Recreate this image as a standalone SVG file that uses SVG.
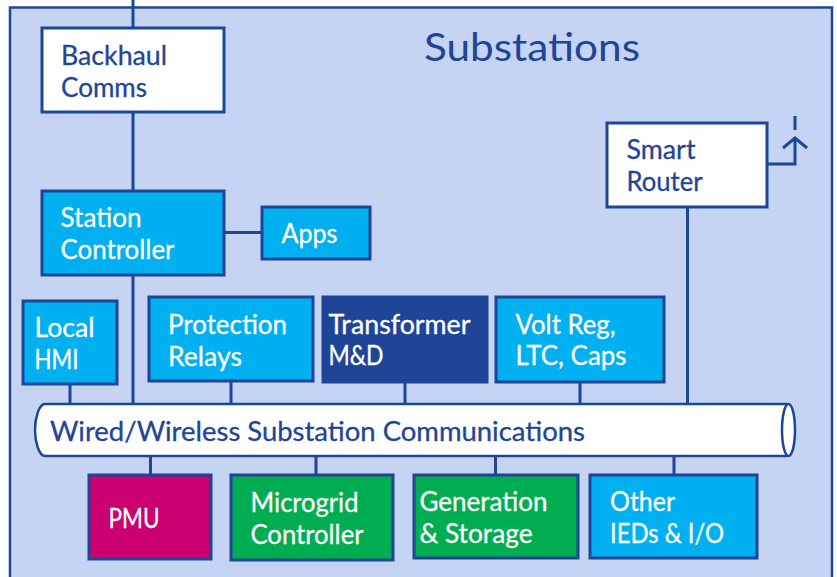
<svg xmlns="http://www.w3.org/2000/svg" width="837" height="577" viewBox="0 0 837 577">
<style>
.box{stroke:#1f4596;stroke-width:3}
.c{fill:none;stroke:#1f4596;stroke-width:3}
text{font-family:"Lato","Noto Sans",sans-serif;font-size:26px;stroke-width:.3px}
.d{fill:#1f4596;stroke:#1f4596}
.w{fill:#fff;stroke:#fff}
</style>
<rect x="0" y="0" width="837" height="577" fill="#fff"/>
<rect id="panel" x="10" y="7.500" width="822" height="575" fill="#c5d4f2" stroke="#1f4596" stroke-width="2.500"/>
<g id="connectors">
<path class="c" d="M133 0V28M133 112V191M225 232.500H262M133 275V404M70 384V404M231 381V404M405 382V404M580 382V404M687.500 207V404M150.500 456V475M316 456V475M495.500 456V475M674 456V475"/>
<path class="c" d="M768 164H795V137M783 148L795 138L807 148M795 116V130"/>
</g>
<g id="title"><text x="424" y="60.500" fill="#1f4596" style="font-size:38px" textLength="216" lengthAdjust="spacingAndGlyphs">Substations</text></g>
<g id="backhaul"><rect class="box" x="42" y="28" width="182" height="84" fill="#fff"/><text class="d" x="61" y="64.500" textLength="106" lengthAdjust="spacingAndGlyphs">Backhaul</text><text class="d" x="61" y="96.500" textLength="86" lengthAdjust="spacingAndGlyphs">Comms</text></g>
<g id="station"><rect class="box" x="42" y="191" width="182" height="84" fill="#00b0f0"/><text class="w" x="60.500" y="226.500" textLength="81" lengthAdjust="spacingAndGlyphs">Station</text><text class="w" x="60.500" y="258.500" textLength="114" lengthAdjust="spacingAndGlyphs">Controller</text></g>
<g id="apps"><rect class="box" x="262" y="207" width="108" height="52" fill="#00b0f0"/><text class="w" x="281.500" y="242.500" textLength="56" lengthAdjust="spacingAndGlyphs">Apps</text></g>
<g id="router"><rect class="box" x="607" y="123" width="160" height="84" fill="#fff"/><text class="d" x="626.500" y="158.500" textLength="69" lengthAdjust="spacingAndGlyphs">Smart</text><text class="d" x="626.500" y="190.500" textLength="76" lengthAdjust="spacingAndGlyphs">Router</text></g>
<g id="hmi"><rect class="box" x="23" y="301" width="94" height="83" fill="#00b0f0"/><text class="w" x="34.500" y="336.500" textLength="60" lengthAdjust="spacingAndGlyphs">Local</text><text class="w" x="34.500" y="368.500" textLength="44" lengthAdjust="spacingAndGlyphs">HMI</text></g>
<g id="relays"><rect class="box" x="149" y="297" width="164" height="84" fill="#00b0f0"/><text class="w" x="168" y="333.500" textLength="119" lengthAdjust="spacingAndGlyphs">Protection</text><text class="w" x="168" y="365.500" textLength="74" lengthAdjust="spacingAndGlyphs">Relays</text></g>
<g id="transformer"><rect class="box" x="323" y="297" width="164" height="85" fill="#1f4596"/><text class="w" x="328.500" y="333.500" textLength="142" lengthAdjust="spacingAndGlyphs">Transformer</text><text class="w" x="328.500" y="364.500" textLength="55" lengthAdjust="spacingAndGlyphs">M&amp;D</text></g>
<g id="volt"><rect class="box" x="496" y="297" width="168" height="85" fill="#00b0f0"/><text class="w" x="515.500" y="333.500" textLength="100" lengthAdjust="spacingAndGlyphs">Volt Reg,</text><text class="w" x="515.500" y="364.500" textLength="111" lengthAdjust="spacingAndGlyphs">LTC, Caps</text></g>
<g id="bus"><path d="M787 404H45C39 404 35 418 35 430C35 442 39 456 45 456H787" fill="#fff" stroke="#1f4596" stroke-width="2.500"/><ellipse cx="788.500" cy="430" rx="6.500" ry="26" fill="#fff" stroke="#1f4596" stroke-width="2.500"/><text class="d" x="50" y="440.500" textLength="535" lengthAdjust="spacingAndGlyphs">Wired/Wireless Substation Communications</text></g>
<g id="pmu"><rect class="box" x="89" y="475" width="122" height="84" fill="#cc0071"/><text class="w" x="108.500" y="527.500" textLength="51" lengthAdjust="spacingAndGlyphs">PMU</text></g>
<g id="microgrid"><rect class="box" x="231" y="475" width="162" height="85" fill="#00ad50"/><text class="w" x="250.500" y="511.500" textLength="108" lengthAdjust="spacingAndGlyphs">Microgrid</text><text class="w" x="250.500" y="543.500" textLength="113" lengthAdjust="spacingAndGlyphs">Controller</text></g>
<g id="generation"><rect class="box" x="414" y="475" width="164" height="83" fill="#00ad50"/><text class="w" x="419.500" y="510.500" textLength="128" lengthAdjust="spacingAndGlyphs">Generation</text><text class="w" x="419.500" y="542.500" textLength="113" lengthAdjust="spacingAndGlyphs">&amp; Storage</text></g>
<g id="other"><rect class="box" x="590" y="475" width="167" height="83" fill="#00b0f0"/><text class="w" x="610" y="510.500" textLength="65" lengthAdjust="spacingAndGlyphs">Other</text><text class="w" x="610" y="542.500" textLength="114" lengthAdjust="spacingAndGlyphs">IEDs &amp; I/O</text></g>
</svg>
